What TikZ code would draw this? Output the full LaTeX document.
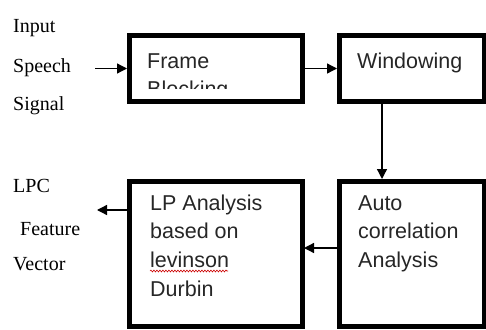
\documentclass[tikz,border=0pt]{standalone}
\usepackage{fontspec}
\setmainfont{Liberation Serif}
\newfontfamily\boxfont{Liberation Sans}
\usetikzlibrary{arrows.meta}
\usetikzlibrary{calc,positioning,decorations.pathmorphing}

\tikzset{
  blk/.style={draw, rectangle, line width=5pt, outer sep=0pt, minimum width=173pt, minimum height=65pt},
  btext/.style={anchor=base west, align=left, inner sep=0pt, text=black!85, font=\boxfont\fontsize{21.5}{28.7}\selectfont},
  lbl/.style={anchor=base west, inner sep=0pt, font=\fontsize{20}{24}\selectfont},
  flow/.style={-{Triangle[length=10pt,width=10pt]}, line width=1.3pt}
}

\begin{document}
\begin{tikzpicture}[x=1pt, y=-1pt]
  \useasboundingbox (0,0) rectangle (486,329);

  \node[blk] (FB) at (215.5,68.5) {};
  \node[blk, minimum width=145pt, right=37pt of FB] (WIN) {};
  \node[blk, minimum width=145pt, minimum height=145pt, below=80pt of WIN] (ACA) {};
  \node[blk, minimum height=145pt, left=37pt of ACA] (LPA) {};

  % text inside the blocks (base = last line)
  \begin{scope}
    \clip (FB.north west) rectangle ([yshift=-52pt]FB.north east);
    \node[btext] (FBt) at ([shift={(18pt,-60.7pt)}]FB.north west) {Frame\\Blocking};
  \end{scope}
  \node[btext] (WINt) at ([shift={(18pt,-32pt)}]WIN.north west) {Windowing};
  \node[btext] (LPAt) at ([shift={(21pt,-115.1pt)}]LPA.north west) {LP Analysis\\based on\\levinson\\Durbin};
  \node[btext] (ACAt) at ([shift={(19pt,-86.4pt)}]ACA.north west) {Auto\\correlation\\Analysis};
  \draw[red!80!black, line width=.6pt, decorate, decoration={snake, amplitude=.9pt, segment length=3pt}] (150,271) -- (228,271);

  % input and output labels
  \node[lbl] (in1) at (13,33) {Input};
  \node[lbl] (in2) at (13,72) {Speech};
  \node[lbl] (in3) at (13,110) {Signal};
  \node[lbl] (out1) at (13,192) {LPC};
  \node[lbl] (out2) at (20,235) {Feature};
  \node[lbl] (out3) at (13,270) {Vector};

  \coordinate (src) at (95,68.5);
  \coordinate (dst) at (97,210);

  \draw[flow] (src) -- ([xshift=-2pt]FB.west);
  \draw[flow] (FB.east) -- ([xshift=-2pt]WIN.west);
  \draw[flow] ([xshift=-29.5pt]WIN.south) -- ([xshift=-29.5pt,yshift=2pt]ACA.north);
  \draw[flow] ([yshift=5.5pt]ACA.west) -- ([xshift=2pt,yshift=5.5pt]LPA.east);
  \draw[flow] (LPA.west |- dst) -- (dst);

\end{tikzpicture}
\end{document}
